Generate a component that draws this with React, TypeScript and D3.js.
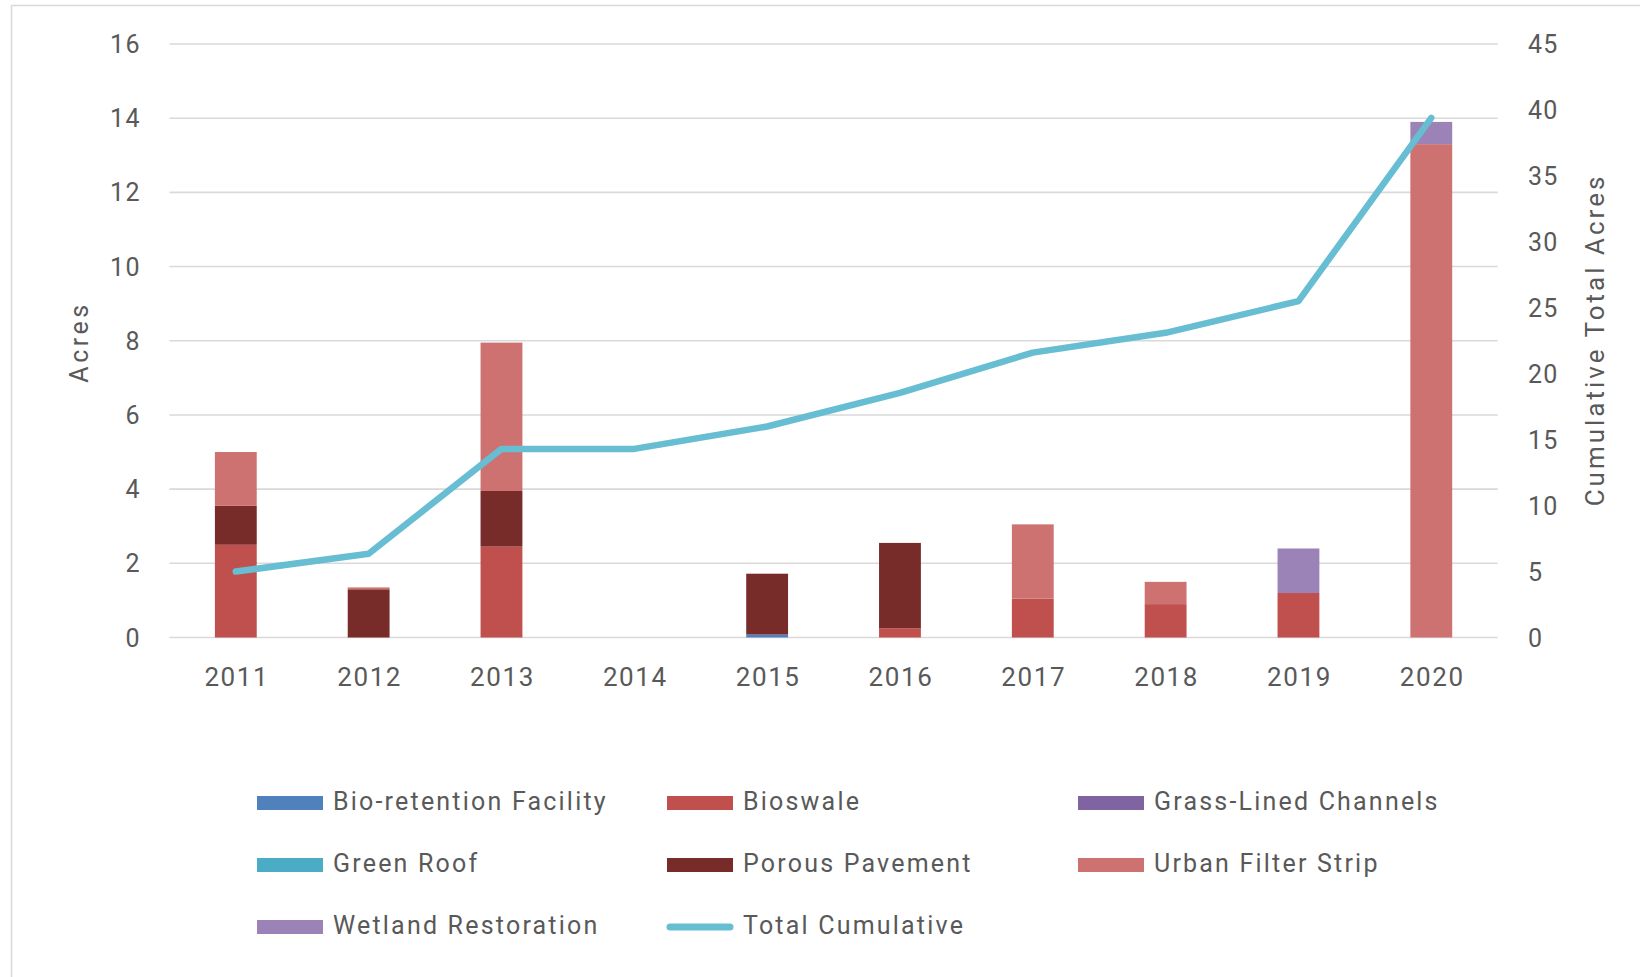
import React from 'react';
import * as d3 from 'd3';

const years = ['2011', '2012', '2013', '2014', '2015', '2016', '2017', '2018', '2019', '2020'];

const bioRetentionFacility = [0, 0, 0, 0, 0.08, 0, 0, 0, 0, 0];
const bioswale = [2.5, 0, 2.45, 0, 0, 0.25, 1.05, 0.9, 1.2, 0];
const grassLinedChannels = [0, 0, 0, 0, 0, 0, 0, 0, 0, 0];
const greenRoof = [0, 0, 0, 0, 0, 0, 0, 0, 0, 0];
const porousPavement = [1.05, 1.3, 1.5, 0, 1.64, 2.3, 0, 0, 0, 0];
const urbanFilterStrip = [1.45, 0.05, 4.0, 0, 0, 0, 2.0, 0.6, 0, 13.3];
const wetlandRestoration = [0, 0, 0, 0, 0, 0, 0, 0, 1.2, 0.6];
const totalCumulative = [5.0, 6.35, 14.3, 14.3, 16.0, 18.55, 21.6, 23.1, 25.5, 39.4];

const leftTicks = [0, 2, 4, 6, 8, 10, 12, 14, 16];
const rightTicks = [0, 5, 10, 15, 20, 25, 30, 35, 40, 45];

const seriesNames = [
  'Bio-retention Facility',
  'Bioswale',
  'Grass-Lined Channels',
  'Green Roof',
  'Porous Pavement',
  'Urban Filter Strip',
  'Wetland Restoration',
];
const seriesValues = [
  bioRetentionFacility,
  bioswale,
  grassLinedChannels,
  greenRoof,
  porousPavement,
  urbanFilterStrip,
  wetlandRestoration,
];
const seriesColors = ['#4F81BD', '#C0504D', '#8064A2', '#4BACC6', '#772C2A', '#CD7270', '#9B83B7'];
const lineName = 'Total Cumulative';
const lineColor = '#67BDD1';

const W = 1640;
const H = 977;
const FONT = 'Roboto, "Open Sans", sans-serif';
const TEXT = '#595959';

export default function App() {
  const x = d3.scaleBand<string>().domain(years).range([169.4, 1497.7]).paddingInner(0.685).paddingOuter(0.3425);
  const yL = d3.scaleLinear().domain([0, 16]).range([637.5, 44]);
  const yR = d3.scaleLinear().domain([0, 45]).range([637.5, 44]);

  const table = years.map((yr, i) => {
    const row: any = { year: yr };
    seriesNames.forEach((n, k) => (row[n] = seriesValues[k][i]));
    return row;
  });
  const stacked = d3.stack<any>().keys(seriesNames)(table);

  const line = d3
    .line<number>()
    .x((_, i) => (x(years[i]) as number) + x.bandwidth() / 2)
    .y((v) => yR(v));

  const legendCols = [257, 667, 1078];
  const legendRows = [803, 865, 927];
  const legendItems = [...seriesNames.map((n, k) => ({ name: n, color: seriesColors[k], isLine: false })), { name: lineName, color: lineColor, isLine: true }];

  return (
    <svg width={W} height={H} style={{ position: 'absolute', left: 0, top: 0, background: '#fff' }}>
      <rect x={11.5} y={5.5} width={1700} height={1100} fill="#fff" stroke="#d9d9d9" strokeWidth={1.5} />
      {leftTicks.map((t) => (
        <line key={'g' + t} x1={169.4} x2={1497.7} y1={yL(t)} y2={yL(t)} stroke="#d9d9d9" strokeWidth={1.6} />
      ))}
      {leftTicks.map((t) => (
        <text key={'l' + t} x={141} y={yL(t) + 9} textAnchor="end" fontFamily={FONT} fontSize={25} letterSpacing={1.5} fill={TEXT}>
          {t}
        </text>
      ))}
      {rightTicks.map((t) => (
        <text key={'r' + t} x={1528} y={yR(t) + 9} textAnchor="start" fontFamily={FONT} fontSize={25} letterSpacing={1.2} fill={TEXT}>
          {t}
        </text>
      ))}
      {stacked.map((s, k) => (
        <g key={s.key} fill={seriesColors[k]}>
          {s.map((d, i) =>
            d[1] - d[0] > 0 ? (
              <rect
                key={i}
                x={x(years[i])}
                width={x.bandwidth()}
                y={yL(d[1])}
                height={yL(d[0]) - yL(d[1])}
              />
            ) : null
          )}
        </g>
      ))}
      <path d={line(totalCumulative) || ''} fill="none" stroke={lineColor} strokeWidth={6.5} strokeLinejoin="round" strokeLinecap="round" />
      {years.map((yr) => (
        <text key={yr} x={(x(yr) as number) + x.bandwidth() / 2 + 1} y={686} textAnchor="middle" fontFamily={FONT} fontSize={26} letterSpacing={1.6} fill={TEXT}>
          {yr}
        </text>
      ))}
      <text transform="translate(88,342) rotate(-90)" textAnchor="middle" fontFamily={FONT} fontSize={25} letterSpacing={3.5} fill={TEXT}>
        Acres
      </text>
      <text transform="translate(1604,340) rotate(-90)" textAnchor="middle" fontFamily={FONT} fontSize={26} letterSpacing={3} fill={TEXT}>
        Cumulative Total Acres
      </text>
      {legendItems.map((it, idx) => {
        const cx = legendCols[idx % 3];
        const cy = legendRows[Math.floor(idx / 3)];
        return (
          <g key={it.name}>
            {it.isLine ? (
              <line x1={cx + 3} x2={cx + 63} y1={cy} y2={cy} stroke={it.color} strokeWidth={7} strokeLinecap="round" />
            ) : (
              <rect x={cx} y={cy - 7} width={66} height={14} fill={it.color} />
            )}
            <text x={cx + 76} y={cy + 7} fontFamily={FONT} fontSize={25} letterSpacing={2.2} fill={TEXT}>
              {it.name}
            </text>
          </g>
        );
      })}
    </svg>
  );
}
